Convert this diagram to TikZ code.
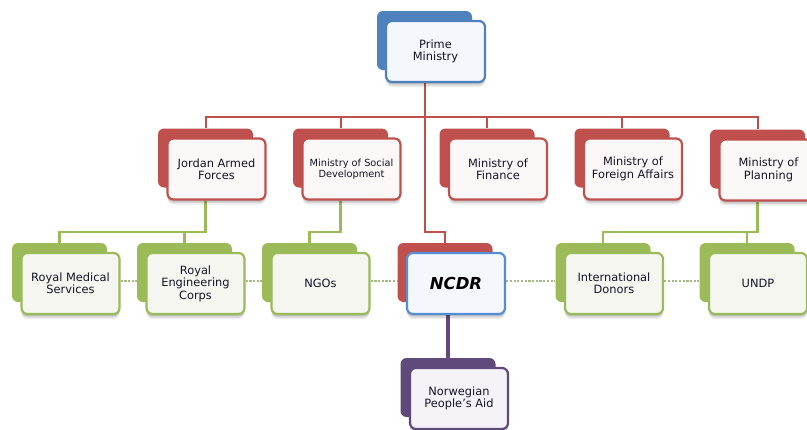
\documentclass[tikz,border=0pt]{standalone}
\usepackage{fontspec}
\setmainfont{DejaVu Sans}
\usetikzlibrary{calc,shadows}
\definecolor{cred}{RGB}{192,80,77}
\definecolor{cgreen}{RGB}{155,187,89}
\definecolor{cblue}{RGB}{79,129,189}
\definecolor{cblueb}{RGB}{85,142,213}
\definecolor{cpurple}{RGB}{96,74,123}
\definecolor{redfill}{RGB}{253,248,248}
\definecolor{greenfill}{RGB}{245,246,240}
\definecolor{bluefill}{RGB}{244,247,252}
\definecolor{purplefill}{RGB}{245,243,248}
\definecolor{ctext}{RGB}{20,20,40}
\definecolor{cdot}{RGB}{165,185,130}
\pgfdeclarelayer{bg}
\pgfdeclarelayer{paper}
\pgfsetlayers{paper,bg,main}
\newcommand\orgunit[6]{%
  \node[back, fill=#4] (#1B) at (#2,#3) {};
  \node[front, #5] (#1F) at ($(#1B)+(11,11)$) {#6};
}
\begin{document}
\begin{tikzpicture}[x=1pt,y=-1pt,
  back/.style={rounded corners=6pt, minimum width=95pt, minimum height=59pt, inner sep=0pt},
  front/.style={rounded corners=6pt, minimum width=98pt, minimum height=61pt, line width=2.2pt,
    align=center, inner sep=2pt, text=ctext, font=\fontsize{11.4}{12.4}\selectfont,
    general shadow={fill=black, opacity=0.07, shadow xshift=0pt, shadow yshift=-5pt},
    general shadow={fill=black, opacity=0.09, shadow xshift=0pt, shadow yshift=-3.5pt},
    general shadow={fill=black, opacity=0.10, shadow xshift=0pt, shadow yshift=-2pt}},
  redf/.style={draw=cred, fill=redfill},
  greenf/.style={draw=cgreen, fill=greenfill},
  bluef/.style={draw=cblueb, fill=bluefill},
  purplef/.style={draw=cpurple, fill=purplefill},
  redline/.style={draw=cred, line width=2pt},
  greenline/.style={draw=cgreen, line width=2.6pt},
  purpleline/.style={draw=cpurple, line width=3.2pt},
  dotline/.style={draw=cdot, line width=1.1pt, dash pattern=on 2.2pt off 1.5pt}]
\begin{pgfonlayer}{paper}
\fill[white] (0,0) rectangle (807,429);
\end{pgfonlayer}
\useasboundingbox (0,0) rectangle (807,429);

\orgunit{pm}{424.5}{40.5}{cblue}{draw=cblue, fill=bluefill, minimum width=99pt, minimum height=61pt}{Prime\\Ministry}
\orgunit{jaf}{205.5}{158}{cred}{redf}{Jordan Armed\\Forces}
\orgunit{msd}{340.5}{158}{cred}{redf, font=\fontsize{9.8}{11}\selectfont}{Ministry of Social\\Development}
\orgunit{mf}{487}{158}{cred}{redf}{Ministry of\\Finance}
\orgunit{mfa}{622}{158}{cred}{redf}{Ministry of\\Foreign Affairs}
\orgunit{mp}{757.5}{159}{cred}{redf}{Ministry of\\Planning}
\orgunit{rms}{59.5}{272.5}{cgreen}{greenf}{Royal Medical\\Services}
\orgunit{rec}{184.5}{272.5}{cgreen}{greenf}{Royal\\Engineering\\Corps}
\orgunit{ngo}{309.5}{272.5}{cgreen}{greenf}{NGOs}
\orgunit{ncdr}{445}{272.5}{cred}{bluef, font=\fontsize{16.5}{18}\selectfont\bfseries\itshape, text=black}{NCDR}
\orgunit{id}{603}{272.5}{cgreen}{greenf}{International\\Donors}
\orgunit{undp}{747}{272.5}{cgreen}{greenf}{UNDP}
\orgunit{npa}{448}{387.5}{cpurple}{purplef}{Norwegian\\People’s Aid}

\coordinate (bus) at (0,117);
\coordinate (gbus) at (0,232);
\coordinate (dl) at (0,281);

\begin{pgfonlayer}{bg}
  % red tree
  \draw[redline] (pmB.center |- pmF.south) -- (pmB.center |- gbus) -| (ncdrB.north);
  \draw[redline] (jafB.north) -- (jafB.north |- bus) -- (mpB.north |- bus) -- (mpB.north);
  \draw[redline] (msdB.north) -- (msdB.north |- bus);
  \draw[redline] (mfB.north) -- (mfB.north |- bus);
  \draw[redline] (mfaB.north) -- (mfaB.north |- bus);
  % green trees
  \draw[greenline] (jafB.center |- jafF.south) -- (jafB.center |- gbus) -| (rmsB.north);
  \draw[greenline] (recB.north) -- (recB.north |- gbus);
  \draw[greenline] (msdB.center |- msdF.south) -- (msdB.center |- gbus) -| (ngoB.north);
  \draw[greenline] (mpB.center |- mpF.south) -- (mpB.center |- gbus) -| (idB.north);
  \draw[greenline] (undpB.north) -- (undpB.north |- gbus);
  % purple
  \draw[purpleline] (npaB.north |- ncdrF.south) -- (npaB.north);
  % dotted links
  \draw[dotline] (rmsF.east |- dl) -- (recB.west |- dl);
  \draw[dotline] (recF.east |- dl) -- (ngoB.west |- dl);
  \draw[dotline] (ngoF.east |- dl) -- (ncdrB.west |- dl);
  \draw[dotline] (ncdrF.east |- dl) -- (idB.west |- dl);
  \draw[dotline] (idF.east |- dl) -- (undpB.west |- dl);
\end{pgfonlayer}
\end{tikzpicture}
\end{document}
